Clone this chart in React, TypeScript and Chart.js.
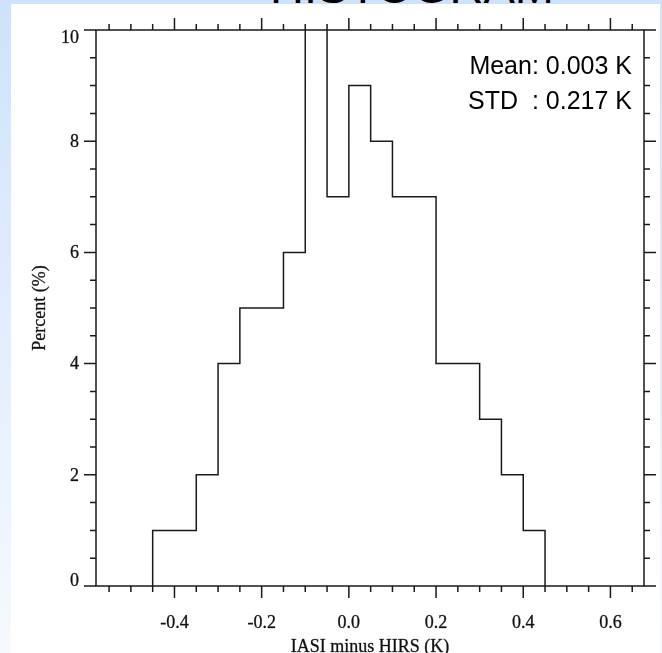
import React, { useEffect, useRef } from 'react';
import { Chart, registerables } from 'chart.js';

Chart.register(...registerables);

// Histogram bins of the brightness-temperature difference (K) and their share (%)
const binEdges = [
  -0.45, -0.4, -0.35, -0.3, -0.25, -0.2, -0.15, -0.1, -0.05,
  0.0, 0.05, 0.1, 0.15, 0.2, 0.25, 0.3, 0.35, 0.4, 0.45,
];
const percents = [1, 1, 2, 4, 5, 5, 6, 24, 7, 9, 8, 7, 7, 4, 4, 3, 2, 1];

const xMajorTicks = [-0.4, -0.2, 0.0, 0.2, 0.4, 0.6];
const xTickLabels = ['-0.4', '-0.2', '0.0', '0.2', '0.4', '0.6'];
const yMajorTicks = [0, 2, 4, 6, 8, 10];
const yTickLabels = ['0', '2', '4', '6', '8', '10'];
const xMinorStep = 0.05;
const yMinorStep = 0.5;

const xRange = [-0.58, 0.677];
const yRange = [0, 10];

const statsLines = ['Mean: 0.003 K', 'STD  : 0.217 K'];
const xTitle = 'IASI minus HIRS (K)';
const yTitle = 'Percent (%)';
const pageTitle = 'HISTOGRAM';

const INK = '#1a1a1a';
const SERIF = '"Liberation Serif", "Times New Roman", serif';
const SANS = '"Liberation Sans", Arial, sans-serif';

function minorValues(min: number, max: number, step: number): number[] {
  const out: number[] = [];
  const k0 = Math.ceil(min / step - 1e-9);
  const k1 = Math.floor(max / step + 1e-9);
  for (let k = k0; k <= k1; k++) out.push(+(k * step).toFixed(6));
  return out;
}

// Outline of the histogram: up/down at every bin edge, flat across each bin
function outlinePoints() {
  const pts: { x: number; y: number }[] = [{ x: binEdges[0], y: 0 }];
  percents.forEach((p, i) => {
    pts.push({ x: binEdges[i], y: p });
    pts.push({ x: binEdges[i + 1], y: p });
  });
  pts.push({ x: binEdges[binEdges.length - 1], y: 0 });
  return pts;
}

// Serif axis text with a hairline stroke so it reads a little heavier
function heavyText(ctx: CanvasRenderingContext2D, s: string, px: number, py: number) {
  ctx.fillText(s, px, py);
  ctx.strokeText(s, px, py);
}

const axisFrame = {
  id: 'axisFrame',
  afterDatasetsDraw(chart: any) {
    const { ctx, chartArea, scales } = chart;
    const { left, right, top, bottom } = chartArea;
    const x = scales.x;
    const y = scales.y;
    const MAJOR = 12;
    const MINOR = 6;

    ctx.save();
    ctx.strokeStyle = INK;
    ctx.lineWidth = 1.5;
    ctx.strokeRect(left, top, right - left, bottom - top);

    const isMajor = (v: number, list: number[]) => list.some((m) => Math.abs(m - v) < 1e-6);

    ctx.beginPath();
    minorValues(xRange[0], xRange[1], xMinorStep).forEach((v) => {
      const px = x.getPixelForValue(v);
      const len = isMajor(v, xMajorTicks) ? MAJOR : MINOR;
      ctx.moveTo(px, bottom);
      ctx.lineTo(px, bottom + len);
      ctx.moveTo(px, top);
      ctx.lineTo(px, top - len);
    });
    minorValues(yRange[0], yRange[1], yMinorStep).forEach((v) => {
      const py = y.getPixelForValue(v);
      const len = isMajor(v, yMajorTicks) ? MAJOR : MINOR;
      ctx.moveTo(left, py);
      ctx.lineTo(left - len, py);
      ctx.moveTo(right, py);
      ctx.lineTo(right + len, py);
    });
    ctx.stroke();

    ctx.fillStyle = '#111';
    ctx.strokeStyle = 'rgba(17,17,17,0.6)';
    ctx.lineWidth = 0.5;
    ctx.font = `18px ${SERIF}`;
    ctx.textAlign = 'center';
    ctx.textBaseline = 'alphabetic';
    xMajorTicks.forEach((v, i) => {
      heavyText(ctx, xTickLabels[i], x.getPixelForValue(v), bottom + 42);
    });
    ctx.textAlign = 'right';
    ctx.textBaseline = 'middle';
    yMajorTicks.forEach((v, i) => {
      // end labels are nudged inward so they stay inside the axis span
      let py = y.getPixelForValue(v) + 1;
      if (i === 0) py -= 6;
      if (i === yMajorTicks.length - 1) py += 7;
      heavyText(ctx, yTickLabels[i], left - 17, py);
    });

    ctx.textAlign = 'center';
    ctx.textBaseline = 'alphabetic';
    heavyText(ctx, xTitle, (left + right) / 2, bottom + 66);

    ctx.save();
    ctx.translate(left - 56, (top + bottom) / 2);
    ctx.rotate(-Math.PI / 2);
    ctx.textBaseline = 'middle';
    heavyText(ctx, yTitle, 0, 0);
    ctx.restore();

    ctx.font = `25px ${SANS}`;
    ctx.fillStyle = '#000';
    ctx.textAlign = 'right';
    ctx.textBaseline = 'alphabetic';
    statsLines.forEach((s, i) => ctx.fillText(s, right - 12, top + 44 + i * 35));
    ctx.restore();
  },
};

export default function App() {
  const canvasRef = useRef<HTMLCanvasElement | null>(null);

  useEffect(() => {
    document.body.style.margin = '0';
    const canvas = canvasRef.current;
    if (!canvas) return;
    const chart = new Chart(canvas, {
      type: 'line',
      data: {
        datasets: [
          {
            data: outlinePoints(),
            borderColor: INK,
            borderWidth: 1.5,
            pointRadius: 0,
            fill: false,
            tension: 0,
          },
        ],
      },
      options: {
        responsive: false,
        animation: false,
        devicePixelRatio: 1,
        parsing: false,
        layout: { padding: { left: 96, right: 18, top: 30, bottom: 67 } },
        scales: {
          x: { type: 'linear', min: xRange[0], max: xRange[1], display: false },
          y: { type: 'linear', min: yRange[0], max: yRange[1], display: false },
        },
        plugins: {
          legend: { display: false },
          tooltip: { enabled: false },
        },
      },
      plugins: [axisFrame],
    });
    return () => chart.destroy();
  }, []);

  return (
    <div
      style={{
        position: 'absolute',
        left: 0,
        top: 0,
        width: 662,
        height: 653,
        overflow: 'hidden',
        background: 'linear-gradient(to bottom, #cfe2fb 0%, #e4effd 55%, #f6faff 100%)',
      }}
    >
      <div
        style={{
          position: 'absolute',
          left: 0,
          width: 662,
          top: -37,
          textAlign: 'center',
          paddingLeft: 162,
          boxSizing: 'border-box',
          font: `47px ${SANS}`,
          lineHeight: '47px',
          color: '#000',
        }}
      >
        {pageTitle}
      </div>
      <div
        style={{
          position: 'absolute',
          left: 11,
          top: 4,
          width: 649,
          height: 649,
          background: '#fff',
        }}
      />
      <canvas
        ref={canvasRef}
        width={662}
        height={653}
        style={{ position: 'absolute', left: 0, top: 0, width: 662, height: 653 }}
      />
    </div>
  );
}
